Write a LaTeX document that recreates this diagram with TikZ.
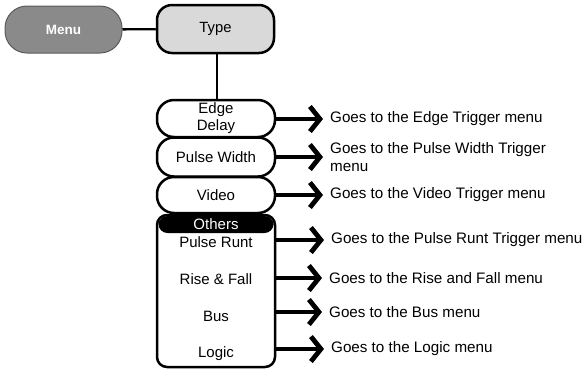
\documentclass[tikz,border=0pt]{standalone}
\usepackage{fontspec}
\setmainfont{Liberation Sans}
\usetikzlibrary{arrows.meta}
\definecolor{menugray}{HTML}{8A8A8A}
\definecolor{menuedge}{HTML}{5A5A5A}
\definecolor{typegray}{HTML}{D9D9D9}
\begin{document}
\begin{tikzpicture}[x=1pt,y=-1pt,
  optbox/.style={draw=black,line width=2.5pt,rounded corners=17pt,minimum width=118pt,inner sep=0pt,align=center,font=\fontsize{15}{17}\selectfont},
  itemtxt/.style={inner sep=0pt,font=\fontsize{15}{17}\selectfont},
  desc/.style={anchor=west,inner sep=0pt,align=left,font=\fontsize{15.2}{18}\selectfont},
  goarrow/.style={line width=4.8pt,-{Straight Barb[length=10pt,width=25pt]},shorten >=7pt},
  link/.style={line width=2.4pt}]
\useasboundingbox (0,0) rectangle (584,368);
% top nodes
\node[fill=menugray,draw=menuedge,line width=1pt,rounded corners=22pt,minimum width=117pt,minimum height=47pt,text=white,font=\bfseries\fontsize{13.5}{16}\selectfont] (menu) at (63.5,29.5) {Menu};
\node[fill=typegray,draw=black,line width=2.5pt,rounded corners=15pt,minimum width=117pt,minimum height=48pt,font=\fontsize{14.8}{17}\selectfont] (type) at (215.5,29) {Type};
\draw[link] (menu) -- (type);
% option boxes
\node[optbox,minimum height=37pt] (edge) at (216,118.5) {Edge\\Delay};
\node[optbox,minimum height=39pt] (pw) at (216,157) {Pulse Width};
\node[optbox,minimum height=36pt] (video) at (216,195) {Video};
\draw[link] (type.south -| edge.north) ++(1,0) coordinate (vtop) -- (vtop |- edge.north);
% others group
\node[draw=black,line width=2.5pt,rounded corners=10pt,minimum width=118pt,minimum height=152pt,inner sep=0pt] (others) at (216,291) {};
\node[fill=black,rounded corners=9pt,minimum width=115pt,minimum height=17pt,inner sep=0pt,text=white,font=\fontsize{15}{17}\selectfont] (oth) at (216,224.5) {Others};
\node[itemtxt] (pr) at (216,242) {Pulse Runt};
\node[itemtxt] (rf) at (216,279.5) {Rise \& Fall};
\node[itemtxt] (bus) at (216,316.5) {Bus};
\node[itemtxt] (logic) at (216,353.5) {Logic};
% descriptions
\node[desc] (edgeT) at (330,119) {Goes to the Edge Trigger menu};
\node[desc] (pwT) at (330,157) {Goes to the Pulse Width Trigger\\menu};
\node[desc] (videoT) at (330,195) {Goes to the Video Trigger menu};
\node[desc] (prT) at (331,240) {Goes to the Pulse Runt Trigger menu};
\node[desc] (rfT) at (329,278) {Goes to the Rise and Fall menu};
\node[desc] (busT) at (329,312) {Goes to the Bus menu};
\node[desc] (logicT) at (331,349) {Goes to the Logic menu};
% arrows
\draw[goarrow] (edge.east |- edgeT.west) -- (edgeT.west);
\draw[goarrow] (pw.east |- pwT.west) -- (pwT.west);
\draw[goarrow] (video.east |- videoT.west) -- (videoT.west);
\draw[goarrow] (others.east |- prT.west) -- (prT.west);
\draw[goarrow] (others.east |- rfT.west) -- (rfT.west);
\draw[goarrow] (others.east |- busT.west) -- (busT.west);
\draw[goarrow] (others.east |- logicT.west) -- (logicT.west);
\end{tikzpicture}
\end{document}
